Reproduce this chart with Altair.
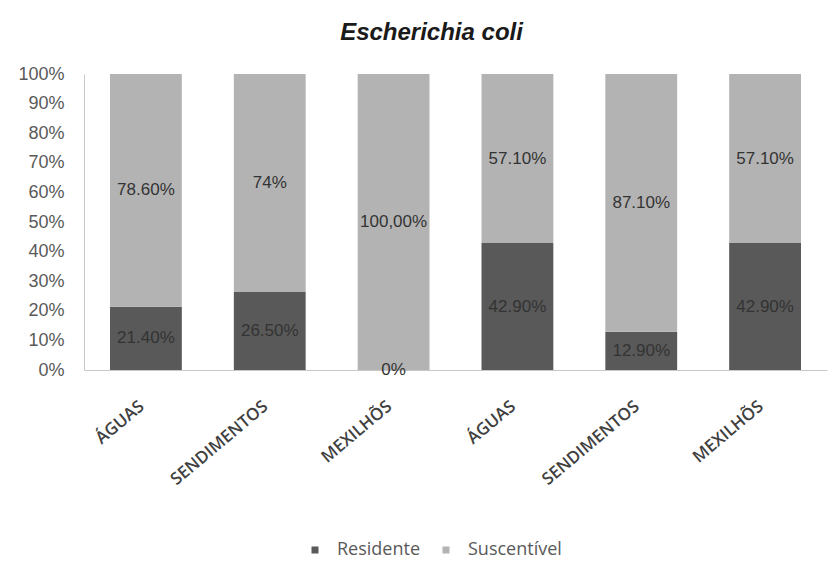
import json
import altair as alt
import pandas as pd

categories = ["ÁGUAS", "SENDIMENTOS", "MEXILHÕS", "ÁGUAS", "SENDIMENTOS", "MEXILHÕS"]
residente = [21.4, 26.5, 0.0, 42.9, 12.9, 42.9]
suscentivel = [78.6, 74.0, 100.0, 57.1, 87.1, 57.1]
residente_labels = ["21.40%", "26.50%", "0%", "42.90%", "12.90%", "42.90%"]
suscentivel_labels = ["78.60%", "74%", "100,00%", "57.10%", "87.10%", "57.10%"]
series = ["Residente", "Suscentível"]
colors = ["#595959", "#b3b3b3"]
y_ticks = [0.0, 0.1, 0.2, 0.3, 0.4, 0.5, 0.6, 0.7, 0.8, 0.9, 1.0]

rows = []
for i, cat in enumerate(categories):
    rows.append({"i": i, "cat": cat, "serie": series[0], "ord": 0,
                 "value": residente[i], "label": residente_labels[i]})
    rows.append({"i": i, "cat": cat, "serie": series[1], "ord": 1,
                 "value": suscentivel[i], "label": suscentivel_labels[i]})
df = pd.DataFrame(rows)

label_expr = json.dumps(categories, ensure_ascii=False) + "[datum.value]"

base = alt.Chart(df).transform_stack(
    stack="value", as_=["y0", "y1"], groupby=["i"], offset="normalize",
    sort=[alt.SortField("ord")]
).transform_calculate(mid="(datum.y0 + datum.y1) / 2")

x_axis = alt.Axis(labelExpr=label_expr, labelAngle=-40, labelAlign="right",
                  labelBaseline="middle",
                  labelFont="Open Sans", labelFontWeight=600, labelFontSize=17,
                  labelColor="#404040", ticks=False, domainColor="#c8c8c8",
                  labelPadding=34, labelOffset=-4)
x_scale = alt.Scale(paddingInner=0.42, paddingOuter=0.21)

y_axis = alt.Axis(format=".0%", values=y_ticks, grid=False,
                  ticks=False, domainColor="#c8c8c8", labelFont="Liberation Sans",
                  labelFontSize=18, labelColor="#5a5a5a", labelPadding=20,
                  labelOverlap=False)
y_scale = alt.Scale(domain=[0, 1], nice=False)

bars = base.mark_bar().encode(
    x=alt.X("i:O", title=None, scale=x_scale, axis=x_axis),
    y=alt.Y("y0:Q", title=None, scale=y_scale, axis=y_axis),
    y2="y1:Q",
    color=alt.Color("serie:N", scale=alt.Scale(domain=series, range=colors),
                    legend=alt.Legend(title=None, orient="none", direction="horizontal",
                                      legendX=222, legendY=467, padding=0,
                                      symbolType="square", symbolSize=49,
                                      labelFont="Open Sans", labelFontSize=18,
                                      labelColor="#595959", columnPadding=16,
                                      labelOffset=13, symbolStrokeWidth=0)),
)

texts = base.mark_text(font="Liberation Sans", fontSize=17, color="#333333").encode(
    x=alt.X("i:O", title=None, scale=x_scale, axis=x_axis),
    y=alt.Y("mid:Q", title=None, scale=y_scale, axis=y_axis),
    text="label:N",
)

chart = alt.layer(bars, texts).properties(
    width=743, height=296,
    title=alt.TitleParams("Escherichia coli", font="Liberation Sans", fontSize=24,
                          fontStyle="italic", fontWeight="bold", color="#1a1a1a",
                          anchor="middle", dx=-24, offset=20),
    padding={"left": 17, "top": 21, "right": 3, "bottom": 5},
).configure_view(stroke=None)

chart.save("out.html", embed_options={"renderer": "svg", "actions": False})
